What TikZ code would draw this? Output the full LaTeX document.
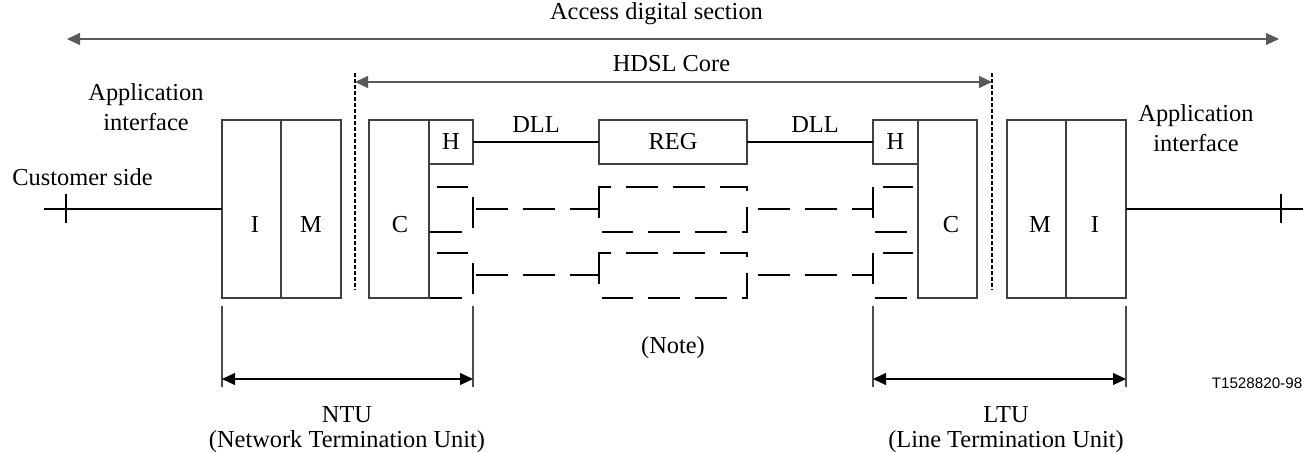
\documentclass[tikz,border=0pt]{standalone}
\usepackage{fontspec}
\setmainfont{Liberation Serif}
\newfontfamily\figsans{Liberation Sans}
\usetikzlibrary{arrows.meta}
\begin{document}
\begin{tikzpicture}[x=0.5pt,y=-0.5pt,
  box/.style={draw=black!75,line width=0.6pt,inner sep=0pt,outer sep=0pt,minimum height=89pt},
  smallbox/.style={draw=black!75,line width=0.6pt,inner sep=0pt,outer sep=0pt,minimum height=22pt,font=\fontsize{12.2}{14}\selectfont},
  lbl/.style={font=\fontsize{12.2}{14}\selectfont,inner sep=0pt,align=center},
  twoline/.style={font=\fontsize{12.2}{15}\selectfont,inner sep=0pt,align=center},
  solidline/.style={draw=black,line width=0.7pt},
  dashseg/.style={draw=black,line width=0.55pt},
  dim/.style={draw=black!65,line width=0.6pt,{Triangle[length=6.5pt,width=6pt]}-{Triangle[length=6.5pt,width=6pt]}},
  ext/.style={draw=black!70,line width=0.55pt},
  dotline/.style={draw=black,line width=0.8pt,dash pattern=on 2pt off 1pt}]
\useasboundingbox (0,0) rectangle (1303,453);

% top dimension
\coordinate (adsL) at (67,39);
\coordinate (adsR) at (1279,39);
\draw[dim] (adsL) -- (adsR);
\node[lbl] (ads) at (656.5,14) {Access digital section};

% HDSL core
\coordinate (hcL) at (355,82);
\coordinate (hcR) at (992,82);
\coordinate (dotLt) at (355,73);
\coordinate (dotLb) at (355,290);
\coordinate (dotRt) at (992,73);
\coordinate (dotRb) at (992,290);
\draw[dotline] (dotLt) -- (dotLb);
\draw[dotline] (dotRt) -- (dotRb);
\draw[dim] (hcL) -- (hcR);
\node[lbl] (hdsl) at (671.5,64) {HDSL Core};

% boxes
\node[box,minimum width=29.5pt] (I1) at (251.5,209) {};
\node[box,minimum width=30pt] (M1) at (311,209) {};
\node[box,minimum width=30pt] (C1) at (399,209) {};
\node[smallbox,minimum width=22pt] (H1) at (451,142) {H};
\node[smallbox,minimum width=74pt] (REG) at (673,142) {REG};
\node[smallbox,minimum width=22.5pt] (H2) at (895.5,142) {H};
\node[box,minimum width=29.5pt] (C2) at (947.5,209) {};
\node[box,minimum width=29.5pt] (M2) at (1036.5,209) {};
\node[box,minimum width=30pt] (I2) at (1096,209) {};

\node[lbl] (I1t) at (255,225) {I};
\node[lbl] (M1t) at (311,225) {M};
\node[lbl] (C1t) at (400,225) {C};
\node[lbl] (C2t) at (951,225) {C};
\node[lbl] (M2t) at (1040,225) {M};
\node[lbl] (I2t) at (1095,225) {I};

% DLL lines
\draw[solidline] (H1.east) -- (REG.west);
\draw[solidline] (REG.east) -- (H2.west);
\node[lbl] (dll1) at (536,125) {DLL};
\node[lbl] (dll2) at (815,125) {DLL};

% customer / network lines
\coordinate (custL) at (44,209);
\coordinate (netR) at (1303,209);
\draw[solidline] (custL) -- (I1.west);
\draw[solidline] (I2.east) -- (netR);
\coordinate (tickLt) at (66,194);
\coordinate (tickLb) at (66,223);
\coordinate (tickRt) at (1281,194);
\coordinate (tickRb) at (1281,223);
\draw[solidline] (tickLt) -- (tickLb);
\draw[solidline] (tickRt) -- (tickRb);
\node[lbl] (cust) at (82.5,177) {Customer side};
\node[twoline] (appL) at (146,107) {Application\\interface};
\node[twoline] (appR) at (1196,128) {Application\\interface};

% dashed (optional) systems
\foreach \dy in {0,66}{
  \draw[dashseg] (437,187+\dy) -- (468,187+\dy);
  \draw[dashseg] (473,197+\dy) -- (473,228+\dy);
  \draw[dashseg] (430,232+\dy) -- (462,232+\dy);
  \draw[dashseg] (476,209+\dy) -- (508,209+\dy);
  \draw[dashseg] (523,209+\dy) -- (555,209+\dy);
  \draw[dashseg] (570,209+\dy) -- (599,209+\dy);
  \draw[dashseg] (599,218+\dy) -- (599,187+\dy) -- (611,187+\dy);
  \draw[dashseg] (626,187+\dy) -- (658,187+\dy);
  \draw[dashseg] (673,187+\dy) -- (705,187+\dy);
  \draw[dashseg] (720,187+\dy) -- (747,187+\dy) -- (747,191+\dy);
  \draw[dashseg] (747,207+\dy) -- (747,232+\dy) -- (742,232+\dy);
  \draw[dashseg] (695,232+\dy) -- (727,232+\dy);
  \draw[dashseg] (648,232+\dy) -- (680,232+\dy);
  \draw[dashseg] (602,232+\dy) -- (633,232+\dy);
  \draw[dashseg] (758,209+\dy) -- (790,209+\dy);
  \draw[dashseg] (805,209+\dy) -- (837,209+\dy);
  \draw[dashseg] (852,209+\dy) -- (873,209+\dy);
  \draw[dashseg] (873,187+\dy) -- (873,218+\dy);
  \draw[dashseg] (883,187+\dy) -- (913,187+\dy);
  \draw[dashseg] (875,232+\dy) -- (907,232+\dy);
}
\node[lbl] (note) at (673,348) {(Note)};

% NTU / LTU dimensions
\coordinate (ntuLt) at (222,306);
\coordinate (ntuLb) at (222,387);
\coordinate (ntuRt) at (473,306);
\coordinate (ntuRb) at (473,387);
\draw[ext] (ntuLt) -- (ntuLb);
\draw[ext] (ntuRt) -- (ntuRb);
\coordinate (ntuA) at (222,379);
\coordinate (ntuB) at (473,379);
\draw[dim,draw=black] (ntuA) -- (ntuB);
\node[lbl] (ntu) at (347,415) {NTU};
\node[lbl] (ntu2) at (347,442) {(Network Termination Unit)};

\coordinate (ltuLt) at (873,306);
\coordinate (ltuLb) at (873,387);
\coordinate (ltuRt) at (1126,306);
\coordinate (ltuRb) at (1126,387);
\draw[ext] (ltuLt) -- (ltuLb);
\draw[ext] (ltuRt) -- (ltuRb);
\coordinate (ltuA) at (873,379);
\coordinate (ltuB) at (1126,379);
\draw[dim,draw=black] (ltuA) -- (ltuB);
\node[lbl] (ltu) at (1006,415) {LTU};
\node[lbl] (ltu2) at (1006,442) {(Line Termination Unit)};

\node[font=\figsans\fontsize{7.6}{9}\selectfont,inner sep=0pt] (code) at (1257,383) {T1528820-98};
\end{tikzpicture}
\end{document}
